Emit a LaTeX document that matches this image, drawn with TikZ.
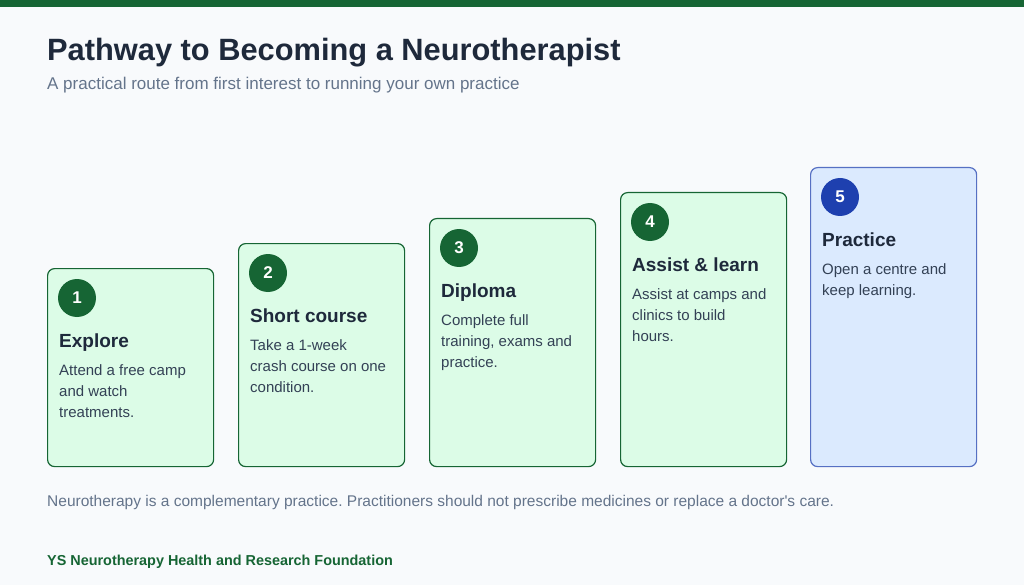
\documentclass[tikz,border=0pt]{standalone}
\usepackage{fontspec}
\setsansfont{Liberation Sans}
\usetikzlibrary{positioning, calc}
\frenchspacing
\definecolor{cgreen}{HTML}{166534}
\definecolor{cgreenbg}{HTML}{DCFCE7}
\definecolor{cblue}{HTML}{1E40AF}
\definecolor{cbluebg}{HTML}{DBEAFE}
\definecolor{cink}{HTML}{1E293B}
\definecolor{cbody}{HTML}{334155}
\definecolor{cmuted}{HTML}{64748B}
\definecolor{cpage}{HTML}{F8FAFC}
\tikzset{
  every picture/.style={font=\sffamily, x=1pt, y=-1pt},
  card/.style={draw=#1, fill=#1bg, line width=1.2pt, rounded corners=7pt, minimum width=166pt, anchor=north west, inner sep=0pt},
  badge/.style={circle, fill=#1, text=white, minimum size=38pt, inner sep=0pt, font=\sffamily\bfseries\fontsize{17}{20}\selectfont},
  heading/.style={anchor=base west, inner sep=0pt, text=cink, font=\sffamily\bfseries\fontsize{19}{23}\selectfont},
  body/.style={anchor=north west, inner sep=0pt, align=left, text=cbody, font=\sffamily\fontsize{15}{21}\selectfont},
  title/.style={anchor=base west, inner sep=0pt, text=cink, font=\sffamily\bfseries\fontsize{30.8}{36}\selectfont},
  note/.style={anchor=base west, inner sep=0pt, text=cmuted, font=\sffamily\fontsize{#1}{20}\selectfont},
  note/.default=15.5,
}
\begin{document}
\begin{tikzpicture}
  \useasboundingbox (0,0) rectangle (1024,585);
  \fill[cpage] (0,0) rectangle (1024,585);
  \fill[cgreen] (0,0) rectangle (1024,7);
  % header
  \node[title] (title) at (47,61) {Pathway to Becoming a Neurotherapist};
  \node[note=17] (sub) at (47,90) {A practical route from first interest to running your own practice};
  % steps
  \node[card=cgreen, minimum height=198pt] (c1) at (47,268) {};
  \node[badge=cgreen] (n1) at ($(c1.north west)+(30,30)$) {1};
  \node[heading] (h1) at ($(c1.north west)+(12,79)$) {Explore};
  \node[body] (b1) at ($(c1.north west)+(12,96)$) {Attend a free camp\\and watch\\treatments.};
  \node[card=cgreen, minimum height=223pt] (c2) at (238,243) {};
  \node[badge=cgreen] (n2) at ($(c2.north west)+(30,30)$) {2};
  \node[heading] (h2) at ($(c2.north west)+(12,79)$) {Short course};
  \node[body] (b2) at ($(c2.north west)+(12,96)$) {Take a 1-week\\crash course on one\\condition.};
  \node[card=cgreen, minimum height=248pt] (c3) at (429,218) {};
  \node[badge=cgreen] (n3) at ($(c3.north west)+(30,30)$) {3};
  \node[heading] (h3) at ($(c3.north west)+(12,79)$) {Diploma};
  \node[body] (b3) at ($(c3.north west)+(12,96)$) {Complete full\\training, exams and\\practice.};
  \node[card=cgreen, minimum height=274pt] (c4) at (620,192) {};
  \node[badge=cgreen] (n4) at ($(c4.north west)+(30,30)$) {4};
  \node[heading] (h4) at ($(c4.north west)+(12,79)$) {Assist \& learn};
  \node[body] (b4) at ($(c4.north west)+(12,96)$) {Assist at camps and\\clinics to build\\hours.};
  \node[card=cblue, minimum height=299pt, draw=cblue!75] (c5) at (810,167) {};
  \node[badge=cblue] (n5) at ($(c5.north west)+(30,30)$) {5};
  \node[heading] (h5) at ($(c5.north west)+(12,79)$) {Practice};
  \node[body] (b5) at ($(c5.north west)+(12,96)$) {Open a centre and\\keep learning.};
  % footer
  \node[note] (disc) at (47,506) {Neurotherapy is a complementary practice. Practitioners should not prescribe medicines or replace a doctor\textquotesingle s care.};
  \node[note, text=cgreen, font=\sffamily\bfseries\fontsize{14.4}{18}\selectfont] (org) at (47,565) {YS Neurotherapy Health and Research Foundation};
\end{tikzpicture}
\end{document}
